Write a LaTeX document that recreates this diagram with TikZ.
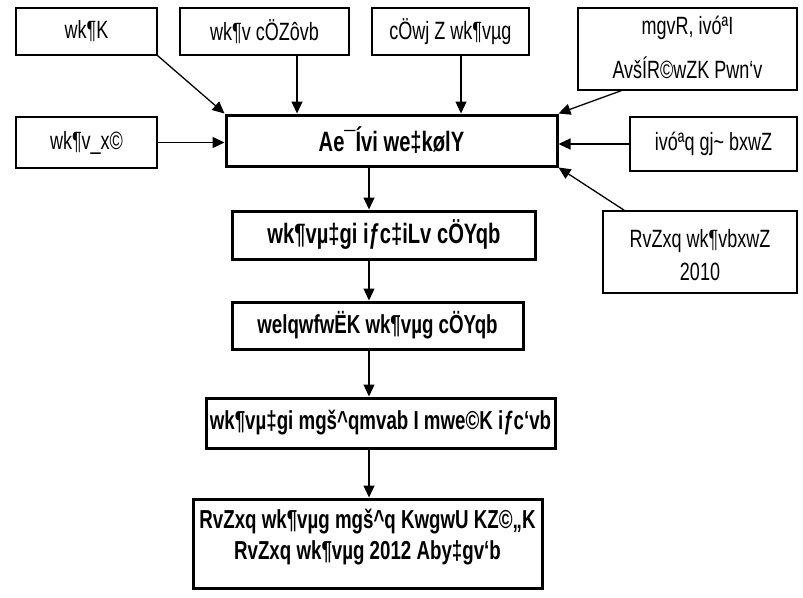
\documentclass[tikz,border=0pt]{standalone}
\usepackage{fontspec}
\setmainfont{Liberation Sans}[FakeStretch=0.72]
\usetikzlibrary{arrows.meta}
\newcommand{\bq}{\char96{}}
\newcommand{\tl}{\char126{}}
\newcommand{\ct}{\char94{}}
\begin{document}
\begin{tikzpicture}[x=1pt,y=-1pt,
  sbox/.style={draw,line width=1.3pt,fill=white,align=center,inner xsep=2pt,font=\fontsize{25}{33}\selectfont},
  bbox/.style={draw,line width=3pt,fill=white,align=center,inner xsep=2pt,font=\fontsize{26}{31}\selectfont\bfseries},
  txt/.style={align=center,inner sep=0pt},
  arr/.style={line width=1.3pt,-{Triangle[length=12pt,width=11pt]}}]
\useasboundingbox (0,0) rectangle (803,597);
\fill[white] (0,0) rectangle (803,597);
% small boxes
\node[sbox,minimum width=141,minimum height=47] (t1) at (86.5,31.5) {wk¶K};
\node[sbox,minimum width=169,minimum height=47] (t2) at (264.5,31.5) {wk¶v cÖZôvb};
\node[sbox,minimum width=157,minimum height=47] (t3) at (450.5,31.5) {cÖwj Z wk¶vµg};
\node[sbox,minimum width=219,minimum height=82] (t4) at (687.5,49) {};
\node[txt,font=\fontsize{25}{38}\selectfont] (t4t) at (687.5,47) {mgvR, ivóªI\\[6pt]AvšÍR©wZK Pwn\bq v};
\node[sbox,minimum width=141,minimum height=51] (l1) at (86.5,142.5) {wk¶v\_x©};
\node[sbox,minimum width=167,minimum height=54] (r1) at (713.5,144) {ivóªq gj\tl{} bxwZ};
\node[sbox,minimum width=194,minimum height=82] (r2) at (700,252) {};
\node[txt,font=\fontsize{25}{33}\selectfont] (r2t) at (700,255) {RvZxq wk¶vbxwZ\\2010};
% main chain
\node[bbox,minimum width=331,minimum height=51,font=\fontsize{28}{31}\selectfont\bfseries] (m) at (391.5,140.5) {Ae¯Ívi we‡kølY};
\node[bbox,minimum width=303,minimum height=48,font=\fontsize{28}{31}\selectfont\bfseries] (b1) at (384,235) {wk¶vµ‡gi iƒc‡iLv cÖYqb};
\node[bbox,minimum width=291,minimum height=47] (b2) at (377.5,325.5) {welqwfwËK wk¶vµg cÖYqb};
\node[bbox,minimum width=349,minimum height=50] (b3) at (380.5,423) {wk¶vµ‡gi mgš\ct{}qmvab I mwe©K iƒc\bq vb};
\node[bbox,minimum width=349,minimum height=89] (b4) at (367.5,543.5) {};
\node[txt,font=\fontsize{26}{31}\selectfont\bfseries] (b4t) at (367.5,537) {RvZxq wk¶vµg mgš\ct{}q KwgwU KZ©„K\\RvZxq wk¶vµg 2012 Aby‡gv\bq b};
% connectors
\draw[arr] (t1.south east) -- (m.north west);
\draw[arr] (t2.south -| 297,0) -- (m.north -| 297,0);
\draw[arr] (t3.south -| 461,0) -- (m.north -| 461,0);
\path (t4.south west) ++(44,0) coordinate (t4a);
\draw[arr] (t4a) -- (m.north east);
\draw[arr] (l1.east) -- (l1.east -| m.west);
\draw[arr] (r1.west) -- (r1.west -| m.east);
\path (r2.north west) ++(22,0) coordinate (r2a);
\draw[arr] (r2a) -- (m.south east);
\draw[arr] (m.south -| 369,0) -- (b1.north -| 369,0);
\draw[arr] (b1.south -| 369,0) -- (b2.north -| 369,0);
\draw[arr] (b2.south -| 369,0) -- (b3.north -| 369,0);
\draw[arr] (b3.south -| 369,0) -- (b4.north -| 369,0);
\end{tikzpicture}
\end{document}
